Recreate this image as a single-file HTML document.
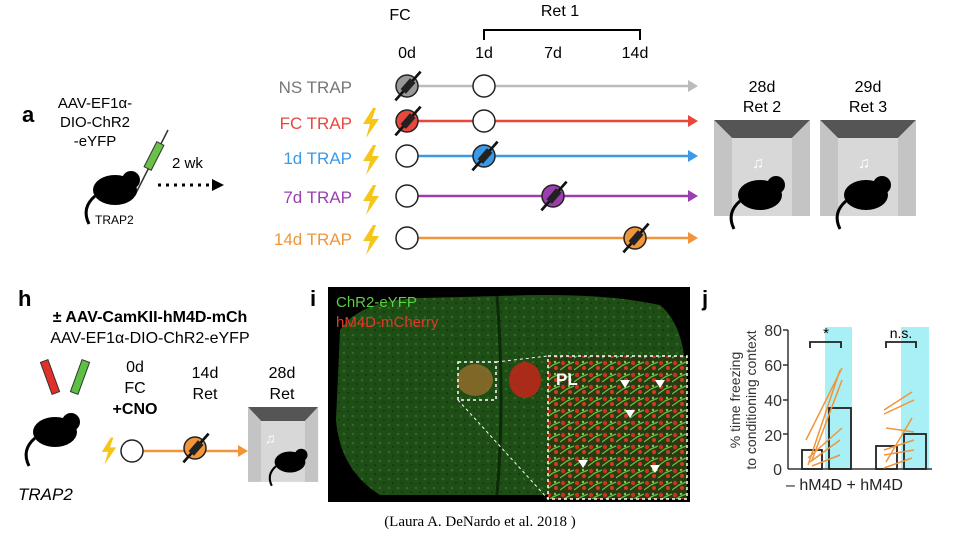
<!DOCTYPE html>
<html><head><meta charset="utf-8"><style>
body{margin:0;background:#fff;}
svg{display:block;font-family:"Liberation Sans",sans-serif;}
</style></head><body>
<svg width="958" height="536" viewBox="0 0 958 536" xmlns="http://www.w3.org/2000/svg">
<defs>
<symbol id="bolt" viewBox="0 0 20 30"><polygon points="12,0 2,16 9,16 5,30 18,11 11,11 15,0" fill="#f5c518"/></symbol>
<symbol id="syr" viewBox="0 0 40 40"><line x1="6" y1="36" x2="34" y2="4" stroke="#111" stroke-width="3"/><rect x="16" y="12" width="8" height="16" fill="#222" transform="rotate(41 20 20)"/></symbol>
<g id="mouse"><ellipse cx="0" cy="0" rx="22" ry="15" fill="#000"/><circle cx="16" cy="-10" r="9" fill="#000"/><path d="M-20,6 q-14,12 -6,28" stroke="#000" stroke-width="3" fill="none"/></g>
<g id="box"><rect x="0" y="0" width="96" height="96" fill="#d8d8d8"/><polygon points="0,0 96,0 78,18 18,18" fill="#555"/><polygon points="0,0 18,18 18,96 0,96" fill="#c4c4c4"/><polygon points="96,0 78,18 78,96 96,96" fill="#c4c4c4"/></g>
<pattern id="cells" width="14" height="12" patternUnits="userSpaceOnUse">
<rect width="14" height="12" fill="#2a3a12"/>
<circle cx="3" cy="3" r="2.2" fill="#c8321e"/><circle cx="10" cy="8" r="2" fill="#d23a22"/>
<path d="M0,10 L7,5 L14,2" stroke="#5fc040" stroke-width="1.3" fill="none"/>
<circle cx="9" cy="2" r="1.2" fill="#7ad050"/>
</pattern>
<pattern id="tex" width="9" height="9" patternUnits="userSpaceOnUse">
<rect width="9" height="9" fill="#1e4d16"/><circle cx="2" cy="2" r="1.3" fill="#2f6a22"/><circle cx="6" cy="6" r="1" fill="#16380f"/>
</pattern>
</defs>

<!-- Panel a -->
<text x="22" y="122" font-size="22" font-weight="bold">a</text>
<text x="95" y="108" font-size="15" text-anchor="middle">AAV-EF1α-</text>
<text x="95" y="127" font-size="15" text-anchor="middle">DIO-ChR2</text>
<text x="95" y="146" font-size="15" text-anchor="middle">-eYFP</text>
<line x1="135" y1="195" x2="168" y2="130" stroke="#333" stroke-width="1.5"/>
<rect x="150" y="142" width="8" height="28" fill="#6cc04a" stroke="#333" transform="rotate(27 154 156)"/>
<use href="#mouse" transform="translate(115,190)"/>
<text x="95" y="224" font-size="12">TRAP2</text>
<text x="172" y="168" font-size="15">2 wk</text>
<line x1="158" y1="185" x2="212" y2="185" stroke="#000" stroke-width="3" stroke-dasharray="3,5"/>
<polygon points="212,179 224,185 212,191" fill="#000"/>

<text x="400" y="20" font-size="16" text-anchor="middle">FC</text>
<text x="560" y="16" font-size="16" text-anchor="middle">Ret 1</text>
<path d="M484,40 V30 H640 V40" stroke="#000" stroke-width="2" fill="none"/>
<text x="407" y="58" font-size="16" text-anchor="middle">0d</text>
<text x="484" y="58" font-size="16" text-anchor="middle">1d</text>
<text x="553" y="58" font-size="16" text-anchor="middle">7d</text>
<text x="635" y="58" font-size="16" text-anchor="middle">14d</text>

<g font-size="17" text-anchor="end">
<text x="352" y="93" fill="#777">NS TRAP</text>
<text x="352" y="129" fill="#e8473c">FC TRAP</text>
<text x="352" y="164" fill="#3b9ae8">1d TRAP</text>
<text x="352" y="203" fill="#9b3fb0">7d TRAP</text>
<text x="352" y="245" fill="#f0953a">14d TRAP</text>
</g>
<use href="#bolt" x="361" y="108" width="20" height="30"/>
<use href="#bolt" x="361" y="145" width="20" height="30"/>
<use href="#bolt" x="361" y="185" width="20" height="30"/>
<use href="#bolt" x="361" y="225" width="20" height="30"/>

<g stroke-width="2.5">
<line x1="407" y1="86" x2="690" y2="86" stroke="#bbb"/><polygon points="688,80 698,86 688,92" fill="#bbb"/>
<line x1="407" y1="121" x2="690" y2="121" stroke="#e8473c"/><polygon points="688,115 698,121 688,127" fill="#e8473c"/>
<line x1="407" y1="156" x2="690" y2="156" stroke="#3b9ae8"/><polygon points="688,150 698,156 688,162" fill="#3b9ae8"/>
<line x1="407" y1="196" x2="690" y2="196" stroke="#9b3fb0"/><polygon points="688,190 698,196 688,202" fill="#9b3fb0"/>
<line x1="407" y1="238" x2="690" y2="238" stroke="#f0953a"/><polygon points="688,232 698,238 688,244" fill="#f0953a"/>
</g>
<g stroke="#222" stroke-width="1.5">
<circle cx="407" cy="86" r="11" fill="#999"/><circle cx="484" cy="86" r="11" fill="#fff"/>
<circle cx="407" cy="121" r="11" fill="#e8473c"/><circle cx="484" cy="121" r="11" fill="#fff"/>
<circle cx="407" cy="156" r="11" fill="#fff"/><circle cx="484" cy="156" r="11" fill="#3b9ae8"/>
<circle cx="407" cy="196" r="11" fill="#fff"/><circle cx="553" cy="196" r="11" fill="#9b3fb0"/>
<circle cx="407" cy="238" r="11" fill="#fff"/><circle cx="635" cy="238" r="11" fill="#f0953a"/>
</g>
<use href="#syr" x="390" y="68" width="36" height="36"/>
<use href="#syr" x="390" y="103" width="36" height="36"/>
<use href="#syr" x="467" y="138" width="36" height="36"/>
<use href="#syr" x="536" y="178" width="36" height="36"/>
<use href="#syr" x="618" y="220" width="36" height="36"/>

<text x="762" y="92" font-size="16" text-anchor="middle">28d</text>
<text x="762" y="112" font-size="16" text-anchor="middle">Ret 2</text>
<text x="868" y="92" font-size="16" text-anchor="middle">29d</text>
<text x="868" y="112" font-size="16" text-anchor="middle">Ret 3</text>
<use href="#box" transform="translate(714,120)"/>
<use href="#box" transform="translate(820,120)"/>
<use href="#mouse" transform="translate(760,195)"/>
<use href="#mouse" transform="translate(866,195)"/>
<text x="752" y="168" font-size="16" fill="#fff">♫</text>
<text x="858" y="168" font-size="16" fill="#fff">♫</text>

<!-- Panel h -->
<text x="18" y="306" font-size="22" font-weight="bold">h</text>
<text x="150" y="322" font-size="16" font-weight="bold" text-anchor="middle">± AAV-CamKII-hM4D-mCh</text>
<text x="150" y="343" font-size="16" text-anchor="middle">AAV-EF1α-DIO-ChR2-eYFP</text>
<rect x="46" y="360" width="8" height="34" fill="#e0302a" stroke="#333" transform="rotate(-20 50 377)"/>
<rect x="76" y="360" width="8" height="34" fill="#5cc040" stroke="#333" transform="rotate(20 80 377)"/>
<use href="#mouse" transform="translate(55,432)"/>
<text x="18" y="500" font-size="17" font-style="italic">TRAP2</text>
<g font-size="16" text-anchor="middle">
<text x="135" y="372">0d</text><text x="135" y="393">FC</text><text x="135" y="414" font-weight="bold">+CNO</text>
<text x="205" y="378">14d</text><text x="205" y="399">Ret</text>
<text x="282" y="378">28d</text><text x="282" y="399">Ret</text>
</g>
<use href="#bolt" x="100" y="437" width="18" height="28"/>
<line x1="132" y1="451" x2="240" y2="451" stroke="#f0953a" stroke-width="2.5"/>
<polygon points="238,445 248,451 238,457" fill="#f0953a"/>
<circle cx="132" cy="451" r="11" fill="#fff" stroke="#222" stroke-width="1.5"/>
<circle cx="195" cy="448" r="11" fill="#f0953a" stroke="#222" stroke-width="1.5"/>
<use href="#syr" x="178" y="430" width="36" height="36"/>
<use href="#box" transform="translate(248,407) scale(0.73,0.78)"/>
<use href="#mouse" transform="translate(290,462) scale(0.7)"/>
<text x="265" y="443" font-size="14" fill="#fff">♫</text>

<!-- Panel i -->
<text x="310" y="306" font-size="22" font-weight="bold">i</text>
<rect x="328" y="287" width="362" height="215" fill="#000"/>
<path d="M340,330 Q360,300 420,298 L500,296 Q600,292 660,305 Q690,330 685,400 Q680,470 640,495 L380,495 Q340,470 336,420 Z" fill="url(#tex)"/>
<path d="M497,296 Q505,400 497,495" stroke="#0c2a0a" stroke-width="3" fill="none"/>
<ellipse cx="475" cy="380" rx="18" ry="16" fill="#8a6a2a" opacity="0.9"/>
<ellipse cx="525" cy="380" rx="16" ry="18" fill="#b82818" opacity="0.9"/>
<rect x="548" y="356" width="139" height="143" fill="url(#cells)"/>
<rect x="548" y="356" width="139" height="143" fill="none" stroke="#fff" stroke-width="1.5" stroke-dasharray="3,3"/>
<rect x="458" y="362" width="38" height="38" fill="none" stroke="#fff" stroke-width="1.5" stroke-dasharray="3,3"/>
<line x1="458" y1="400" x2="548" y2="499" stroke="#fff" stroke-dasharray="3,3"/>
<line x1="496" y1="362" x2="548" y2="356" stroke="#fff" stroke-dasharray="3,3"/>
<text x="556" y="385" font-size="17" font-weight="bold" fill="#fff">PL</text>
<text x="336" y="307" font-size="15" fill="#5ad040">ChR2-eYFP</text>
<text x="336" y="327" font-size="15" fill="#e03a2a">hM4D-mCherry</text>
<g fill="#fff"><polygon points="620,380 630,380 625,388"/><polygon points="655,380 665,380 660,388"/><polygon points="625,410 635,410 630,418"/><polygon points="578,460 588,460 583,468"/><polygon points="650,465 660,465 655,473"/></g>

<!-- Panel j -->
<text x="702" y="306" font-size="22" font-weight="bold">j</text>
<rect x="825" y="327" width="27" height="142" fill="#a8f0f5"/>
<rect x="901" y="327" width="28" height="142" fill="#a8f0f5"/>
<line x1="788" y1="330" x2="788" y2="469" stroke="#333" stroke-width="1.5"/>
<line x1="788" y1="469" x2="932" y2="469" stroke="#333" stroke-width="1.5"/>
<g font-size="16" text-anchor="end" fill="#333">
<text x="782" y="336">80</text><text x="782" y="371">60</text><text x="782" y="406">40</text><text x="782" y="441">20</text><text x="782" y="475">0</text>
</g>
<g stroke="#333" stroke-width="1.5"><line x1="783" y1="330" x2="788" y2="330"/><line x1="783" y1="365" x2="788" y2="365"/><line x1="783" y1="400" x2="788" y2="400"/><line x1="783" y1="434" x2="788" y2="434"/></g>
<text transform="translate(740,400) rotate(-90)" font-size="14" text-anchor="middle" fill="#333">% time freezing</text>
<text transform="translate(756,400) rotate(-90)" font-size="14" text-anchor="middle" fill="#333">to conditioning context</text>
<g fill="none" stroke="#222" stroke-width="1.8">
<rect x="802" y="450" width="20" height="19"/>
<rect x="829" y="408" width="22" height="61"/>
<rect x="876" y="446" width="21" height="23"/>
<rect x="904" y="434" width="22" height="35"/>
<path d="M810,348 V342 H841 V348"/><path d="M886,348 V342 H916 V348"/>
</g>
<g stroke="#f0953a" stroke-width="1.5">
<line x1="808" y1="465" x2="840" y2="370"/><line x1="812" y1="460" x2="842" y2="380"/><line x1="806" y1="440" x2="842" y2="368"/>
<line x1="810" y1="462" x2="840" y2="440"/><line x1="808" y1="458" x2="842" y2="428"/><line x1="812" y1="466" x2="840" y2="455"/>
<line x1="884" y1="410" x2="912" y2="392"/><line x1="884" y1="414" x2="914" y2="400"/><line x1="886" y1="428" x2="914" y2="432"/>
<line x1="884" y1="450" x2="914" y2="440"/><line x1="884" y1="455" x2="914" y2="450"/><line x1="886" y1="462" x2="912" y2="418"/><line x1="884" y1="468" x2="912" y2="458"/>
</g>
<text x="826" y="338" font-size="15" text-anchor="middle">*</text>
<text x="901" y="338" font-size="14" text-anchor="middle">n.s.</text>
<text x="786" y="490" font-size="16" fill="#222">– hM4D + hM4D</text>

<text x="480" y="526" font-size="15" text-anchor="middle" font-family="Liberation Serif, serif">(Laura A. DeNardo et al. 2018 )</text>
</svg>
</body></html>
